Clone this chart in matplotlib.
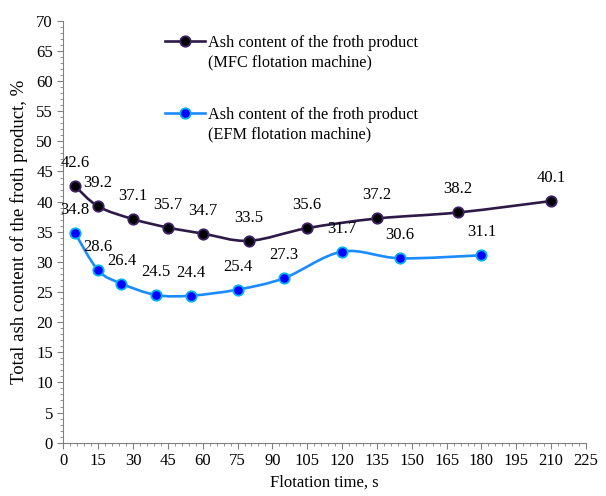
import matplotlib
matplotlib.use('Agg')
import matplotlib.pyplot as plt
from matplotlib.path import Path
from matplotlib.patches import PathPatch
from matplotlib.lines import Line2D
from matplotlib.legend import Legend
from matplotlib.ticker import MultipleLocator

plt.rcParams['font.family'] = ['Liberation Serif', 'DejaVu Serif']

# Data
mfc_time = [5, 15, 30, 45, 60, 80, 105, 135, 170, 210]
mfc_ash = [42.6, 39.2, 37.1, 35.7, 34.7, 33.5, 35.6, 37.2, 38.2, 40.1]
efm_time = [5, 15, 25, 40, 55, 75, 95, 120, 145, 180]
efm_ash = [34.8, 28.6, 26.4, 24.5, 24.4, 25.4, 27.3, 31.7, 30.6, 31.1]

mfc_label = ['Ash content of the froth product', '(MFC flotation machine)']
efm_label = ['Ash content of the froth product', '(EFM flotation machine)']

MFC_LINE, MFC_FACE, MFC_EDGE = '#2e1a47', '#000000', '#3d2266'
EFM_LINE, EFM_FACE, EFM_EDGE = '#1a8cff', '#0000ff', '#00b4f0'


def smooth_path(xs, ys):
    # Excel-like smoothed line: cubic Bezier segments through the points
    pts = list(zip(xs, ys))
    n = len(pts)
    verts = [pts[0]]
    codes = [Path.MOVETO]
    for i in range(n - 1):
        p0 = pts[i - 1] if i > 0 else pts[i]
        p1 = pts[i]
        p2 = pts[i + 1]
        p3 = pts[i + 2] if i + 2 < n else pts[i + 1]
        c1 = (p1[0] + (p2[0] - p0[0]) / 6, p1[1] + (p2[1] - p0[1]) / 6)
        c2 = (p2[0] - (p3[0] - p1[0]) / 6, p2[1] - (p3[1] - p1[1]) / 6)
        verts += [c1, c2, p2]
        codes += [Path.CURVE4] * 3
    return Path(verts, codes)


fig = plt.figure(figsize=(6.06, 4.96), dpi=100)
ax = fig.add_axes([0.1045, 0.1075, 0.8625, 0.8505])

for xs, ys, lc, fc, ec in [(mfc_time, mfc_ash, MFC_LINE, MFC_FACE, MFC_EDGE),
                           (efm_time, efm_ash, EFM_LINE, EFM_FACE, EFM_EDGE)]:
    ax.add_patch(PathPatch(smooth_path(xs, ys), facecolor='none',
                           edgecolor=lc, lw=1.9, zorder=2))
    ax.plot(xs, ys, linestyle='none', marker='o', ms=7.5, mfc=fc,
            mec=ec, mew=1.3, zorder=3)
    for x, y in zip(xs, ys):
        ax.annotate(f'{y:.1f}', (x, y), xytext=(0, 23),
                    textcoords='offset pixels', ha='center', va='center',
                    fontsize=12)

ax.set_xlim(0, 225)
ax.set_ylim(0, 70)
ax.xaxis.set_major_locator(MultipleLocator(15))
ax.xaxis.set_minor_locator(MultipleLocator(3))
ax.yaxis.set_major_locator(MultipleLocator(5))
ax.yaxis.set_minor_locator(MultipleLocator(1))
ax.tick_params(which='both', direction='out', color='#808080',
               labelsize=12)
ax.tick_params(which='major', length=4)
ax.tick_params(which='minor', length=2.5)
for s in ['top', 'right']:
    ax.spines[s].set_visible(False)
for s in ['left', 'bottom']:
    ax.spines[s].set_color('#808080')

ax.set_xlabel('Flotation time, s', fontsize=12)
ax.set_ylabel('Total ash content of the froth product, %', fontsize=13.5,
              labelpad=6)

# Legend: handle next to the first line of each two-line label
blank = Line2D([], [], linestyle='none')
for lc, fc, ec, labels, top in [(MFC_LINE, MFC_FACE, MFC_EDGE, mfc_label, 0.966),
                                (EFM_LINE, EFM_FACE, EFM_EDGE, efm_label, 0.796)]:
    h = Line2D([], [], color=lc, lw=1.9, marker='o', ms=7.5,
               mfc=fc, mec=ec, mew=1.3)
    leg = Legend(ax, [h, blank], labels, loc='upper left',
                 bbox_to_anchor=(0.1946, top), frameon=False, fontsize=11.7,
                 handlelength=2.45, handletextpad=0.2, labelspacing=0.2,
                 borderpad=0, borderaxespad=0)
    ax.add_artist(leg)

fig.savefig('out.png', dpi=100)
